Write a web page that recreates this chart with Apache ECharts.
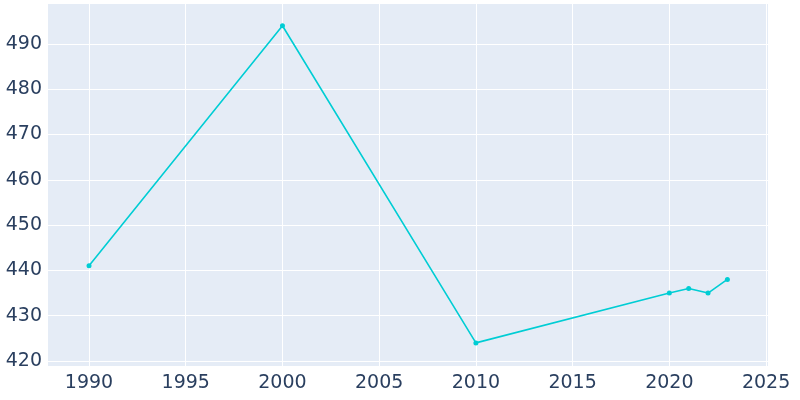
<!doctype html>
<html>
<head>
<meta charset="utf-8">
<script src="https://cdn.jsdelivr.net/npm/echarts@6/dist/echarts.min.js"></script>
</head>
<body style="margin:0">
<div id="chart" style="width:800px;height:400px"></div>
<script>
var years = [1990, 2000, 2010, 2020, 2021, 2022, 2023];
var population = [441, 494, 424, 435, 436, 435, 438];
var xTicks = [1990, 1995, 2000, 2005, 2010, 2015, 2020, 2025];
var yTicks = [420, 430, 440, 450, 460, 470, 480, 490];

var chart = echarts.init(document.getElementById('chart'));
chart.setOption({
  animation: false,
  grid: { left: 48, right: 32, top: 4, bottom: 34, containLabel: false, show: true, backgroundColor: '#e5ecf6', borderWidth: 0 },
  xAxis: {
    type: 'value', min: 1987.88, max: 2025.1,
    axisLine: { show: false }, axisTick: { show: false, customValues: xTicks },
    axisLabel: { customValues: xTicks, margin: 8, color: '#2a3f5f', fontSize: 19, fontFamily: 'DejaVu Sans',
      formatter: function (v) { return String(v); } },
    splitLine: { show: true, lineStyle: { color: '#fff', width: 1 } }
  },
  yAxis: {
    type: 'value', min: 418.9, max: 498.8,
    axisLine: { show: false }, axisTick: { show: false, customValues: yTicks },
    axisLabel: { customValues: yTicks, margin: 6, color: '#2a3f5f', fontSize: 19, fontFamily: 'DejaVu Sans' },
    splitLine: { show: true, lineStyle: { color: '#fff', width: 1 } }
  },
  series: [{
    type: 'line',
    data: years.map(function (y, i) { return [y, population[i]]; }),
    symbol: 'circle', symbolSize: 5,
    lineStyle: { color: '#00cdd4', width: 1.6 },
    itemStyle: { color: '#00cdd4' }
  }]
});
</script>
</body>
</html>
